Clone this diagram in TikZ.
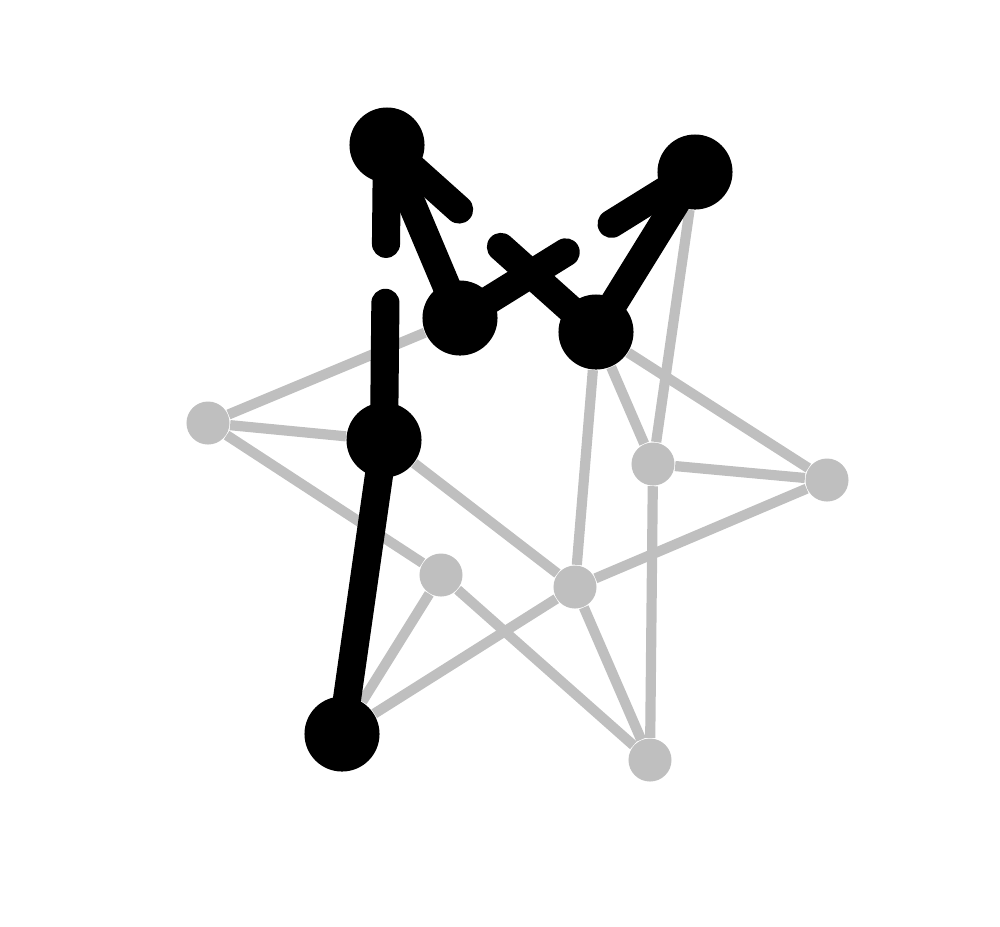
\documentclass[tikz,border=0pt]{standalone}
\usetikzlibrary{calc}
\pgfdeclarelayer{edges}
\pgfsetlayers{edges,main}
\definecolor{lg}{RGB}{191,191,191}
\begin{document}
\begin{tikzpicture}[x=0.01cm,y=-0.01cm,
  bignode/.style={circle,fill=black,inner sep=0pt,minimum size=0.75cm},
  smallnode/.style={circle,fill=lg,inner sep=0pt,minimum size=0.43cm},
  grayedge/.style={draw=lg,line width=2.9pt},
  blackedge/.style={draw=black,line width=8pt,line cap=round}]
\useasboundingbox (0,0) rectangle (1000,926);
% black nodes
\node[bignode] (A) at (387,145) {};
\node[bignode] (B) at (695,172) {};
\node[bignode] (C) at (460,318) {};
\node[bignode] (D) at (596,332) {};
\node[bignode] (E) at (384,440) {};
\node[bignode] (F) at (342,734) {};
% gray nodes
\node[smallnode] (G) at (208,423) {};
\node[smallnode] (H) at (653,464) {};
\node[smallnode] (I) at (827,480) {};
\node[smallnode] (J) at (441,575) {};
\node[smallnode] (K) at (575,587) {};
\node[smallnode] (L) at (650,760) {};
% stub ends of partial edges
\coordinate (eaE) at ($(E.center)!0.465!(A.center)$);
\coordinate (eaA) at ($(A.center)!0.335!(E.center)$);
\coordinate (cbC) at ($(C.center)!0.45!(B.center)$);
\coordinate (cbB) at ($(B.center)!0.355!(C.center)$);
\coordinate (daD) at ($(D.center)!0.455!(A.center)$);
\coordinate (daA) at ($(A.center)!0.345!(D.center)$);
\begin{pgfonlayer}{edges}
% gray edges
\draw[grayedge] (G) -- (C);
\draw[grayedge] (G) -- (E);
\draw[grayedge] (G) -- (J);
\draw[grayedge] (E) -- (K);
\draw[grayedge] (J) -- (F);
\draw[grayedge] (J) -- (L);
\draw[grayedge] (F) -- (K);
\draw[grayedge] (K) -- (L);
\draw[grayedge] (K) -- (I);
\draw[grayedge] (K) -- (D);
\draw[grayedge] (D) -- (H);
\draw[grayedge] (D) -- (I);
\draw[grayedge] (H) -- (B);
\draw[grayedge] (H) -- (I);
\draw[grayedge] (H) -- (L);
% black edges
\draw[blackedge] (F.center) -- (E.center);
\draw[blackedge] (C.center) -- (A.center);
\draw[blackedge] (D.center) -- (B.center);
% partial black edges
\draw[blackedge] (E.center) -- (eaE);
\draw[blackedge] (A.center) -- (eaA);
\draw[blackedge] (C.center) -- (cbC);
\draw[blackedge] (B.center) -- (cbB);
\draw[blackedge] (D.center) -- (daD);
\draw[blackedge] (A.center) -- (daA);
\end{pgfonlayer}
\end{tikzpicture}
\end{document}
